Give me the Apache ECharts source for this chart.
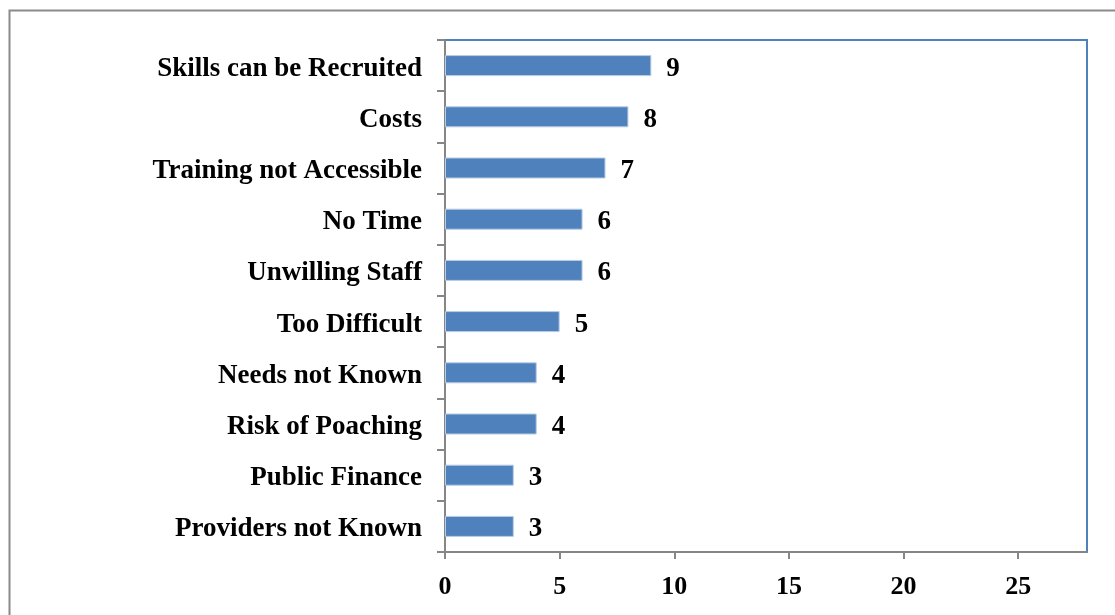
<!DOCTYPE html>
<html>
<head>
<meta charset="utf-8">
<script src="https://cdn.jsdelivr.net/npm/echarts@6/dist/echarts.min.js"></script>
<style>
html,body{margin:0;padding:0;background:#fff;}
#chart{width:1115px;height:615px;}
</style>
</head>
<body>
<div id="chart"></div>
<script>
const categories = [
  "Skills can be Recruited",
  "Costs",
  "Training not Accessible",
  "No Time",
  "Unwilling Staff",
  "Too Difficult",
  "Needs not Known",
  "Risk of Poaching",
  "Public Finance",
  "Providers not Known"
];
const values = [9, 8, 7, 6, 6, 5, 4, 4, 3, 3];
const xTicks = [0, 5, 10, 15, 20, 25];

const chart = echarts.init(document.getElementById('chart'), null, {renderer: 'canvas'});
const font = '"Liberation Serif", "Times New Roman", serif';
const axisGray = '#868686';
const txt = {color: '#000', fontFamily: font, fontWeight: 'bold', fontSize: 27, padding: [6, 0, 0, 0]};
chart.setOption({
  animation: false,
  backgroundColor: '#fff',
  graphic: [{
    type: 'rect',
    shape: {x: 9.5, y: 10.5, width: 1200, height: 700},
    style: {fill: 'none', stroke: '#8a8a8a', lineWidth: 2},
    silent: true,
    z: -10
  }],
  grid: {
    left: 445, right: 28, top: 40, bottom: 63,
    show: true,
    borderColor: '#4F81BD',
    borderWidth: 2,
    backgroundColor: 'transparent'
  },
  xAxis: {
    type: 'value',
    min: 0, max: 28, interval: 5,
    splitLine: {show: false},
    axisLine: {show: true, lineStyle: {color: axisGray, width: 2}},
    axisTick: {show: true, length: 7, lineStyle: {color: axisGray, width: 2}},
    axisLabel: {
      showMaxLabel: false,
      margin: 22,
      color: '#000', fontFamily: font, fontWeight: 'bold', fontSize: 26,
      formatter: v => xTicks.includes(v) ? String(v) : ''
    }
  },
  yAxis: {
    type: 'category',
    data: categories,
    inverse: true,
    axisLine: {show: true, lineStyle: {color: axisGray, width: 2}},
    axisTick: {show: true, length: 8, lineStyle: {color: axisGray, width: 2}},
    axisLabel: {
      margin: 23,
      formatter: v => '{a|' + v + '}',
      rich: {a: txt}
    }
  },
  series: [{
    type: 'bar',
    data: values,
    barWidth: 21,
    itemStyle: {color: '#4F81BD', borderColor: '#B8CCE4', borderWidth: 1},
    label: {
      show: true, position: 'right', distance: 15,
      offset: [0, 3],
      color: '#000', fontFamily: font, fontWeight: 'bold', fontSize: 27
    }
  }]
});
</script>
</body>
</html>
